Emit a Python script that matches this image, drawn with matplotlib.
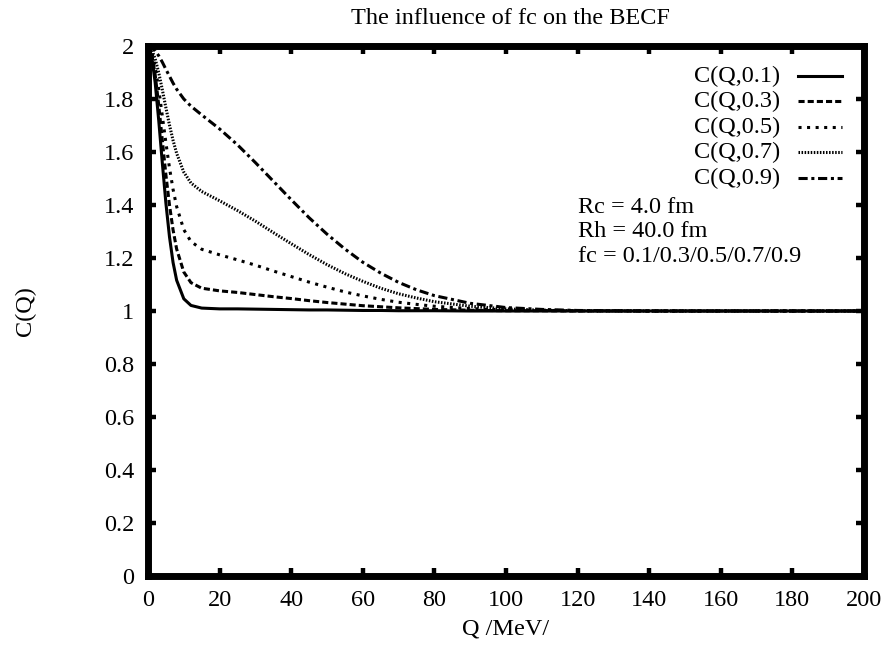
import matplotlib
matplotlib.use("Agg")
import matplotlib.pyplot as plt
from matplotlib.ticker import FuncFormatter, MultipleLocator

plt.rcParams['font.family'] = ['Liberation Serif', 'DejaVu Serif']

# Q values (MeV)
Q = [0, 1, 2, 3, 4, 5, 6, 7, 8, 10, 12, 15, 20, 25, 30, 35, 40, 45, 50, 55,
     60, 65, 70, 75, 80, 90, 100, 110, 120, 140, 160, 180, 200]

C_01 = [2.000, 1.964, 1.862, 1.719, 1.559, 1.407, 1.280, 1.183, 1.116, 1.046, 1.021,
        1.011, 1.008, 1.008, 1.007, 1.006, 1.005, 1.004, 1.004, 1.003, 1.002, 1.002,
        1.001, 1.001, 1.001, 1.000, 1.000, 1.000, 1.000, 1.000, 1.000, 1.000, 1.000]
C_03 = [2.000, 1.972, 1.892, 1.777, 1.644, 1.514, 1.400, 1.306, 1.234, 1.147, 1.107,
        1.086, 1.076, 1.070, 1.062, 1.054, 1.047, 1.039, 1.032, 1.026, 1.020, 1.016,
        1.012, 1.009, 1.006, 1.003, 1.001, 1.001, 1.000, 1.000, 1.000, 1.000, 1.000]
C_05 = [2.000, 1.980, 1.922, 1.837, 1.736, 1.635, 1.540, 1.459, 1.394, 1.307, 1.262,
        1.233, 1.212, 1.193, 1.173, 1.151, 1.130, 1.109, 1.090, 1.072, 1.057, 1.044,
        1.033, 1.025, 1.018, 1.009, 1.004, 1.002, 1.001, 1.000, 1.000, 1.000, 1.000]
C_07 = [2.000, 1.988, 1.952, 1.899, 1.835, 1.767, 1.702, 1.644, 1.595, 1.524, 1.483,
        1.451, 1.416, 1.379, 1.339, 1.296, 1.254, 1.213, 1.175, 1.141, 1.112, 1.086,
        1.065, 1.049, 1.035, 1.018, 1.008, 1.003, 1.001, 1.000, 1.000, 1.000, 1.000]
C_09 = [2.000, 1.996, 1.982, 1.963, 1.939, 1.912, 1.886, 1.860, 1.837, 1.800, 1.773,
        1.740, 1.687, 1.627, 1.560, 1.490, 1.420, 1.352, 1.290, 1.234, 1.184, 1.143,
        1.108, 1.080, 1.058, 1.029, 1.013, 1.006, 1.002, 1.000, 1.000, 1.000, 1.000]

labels = ["C(Q,0.1)", "C(Q,0.3)", "C(Q,0.5)", "C(Q,0.7)", "C(Q,0.9)"]
series = [C_01, C_03, C_05, C_07, C_09]
info_lines = ["Rc = 4.0 fm", "Rh = 40.0 fm", "fc = 0.1/0.3/0.5/0.7/0.9"]
title = "The influence of fc on the BECF"
xlabel = "Q /MeV/"
ylabel = "C(Q)"

FS = 17.5

fig = plt.figure(figsize=(8.87, 6.46), dpi=100)
ax = fig.add_axes([148/887, 1 - 576/646, 716/887, 530/646])

lw = 2.2
styles = [
    '-',
    (0, (2.0, 1.0)),
    (0, (1.0, 1.8)),
    (0, (0.5, 0.5)),
    (0, (3.0, 1.2, 1.0, 1.2)),
]
for y, st in zip(series, styles):
    ax.plot(Q, y, color='black', lw=lw, linestyle=st, dash_capstyle='butt')

ax.set_xlim(0, 200)
ax.set_ylim(0, 2)
ax.xaxis.set_major_locator(MultipleLocator(20))
ax.yaxis.set_major_locator(MultipleLocator(0.2))
ax.yaxis.set_major_formatter(FuncFormatter(lambda v, p: f"{v:g}"))
ax.xaxis.set_major_formatter(FuncFormatter(lambda v, p: f"{v:g}"))
ax.tick_params(direction='in', top=True, right=True, length=6, width=3.2,
               labelsize=FS, pad=10)
ax.tick_params(axis='y', pad=10)
for s in ax.spines.values():
    s.set_linewidth(5)

# key (gnuplot style: label right-aligned, sample to the right)
key_y = [0.9434, 0.8953, 0.8472, 0.7991, 0.7509]
for lab, st, yk in zip(labels, styles, key_y):
    ax.text(0.8827, yk, lab, transform=ax.transAxes, ha='right', va='center', fontsize=FS)
    ax.plot([0.9078, 0.9693], [yk, yk], transform=ax.transAxes, color='black', lw=lw,
            linestyle=st, dash_capstyle='butt', clip_on=False)

info_y = [0.6962, 0.6491, 0.6019]
for line, yi in zip(info_lines, info_y):
    ax.text(0.6006, yi, line, transform=ax.transAxes, ha='left', va='center', fontsize=FS)

fig.text(510/887, 1 - 18/646, title, ha='center', va='center', fontsize=FS)
fig.text(506/887, 1 - 629/646, xlabel, ha='center', va='center', fontsize=FS)
fig.text(25/887, 1 - 311/646, ylabel, ha='center', va='center', rotation=90, fontsize=FS)

fig.savefig("out.png", dpi=100)
